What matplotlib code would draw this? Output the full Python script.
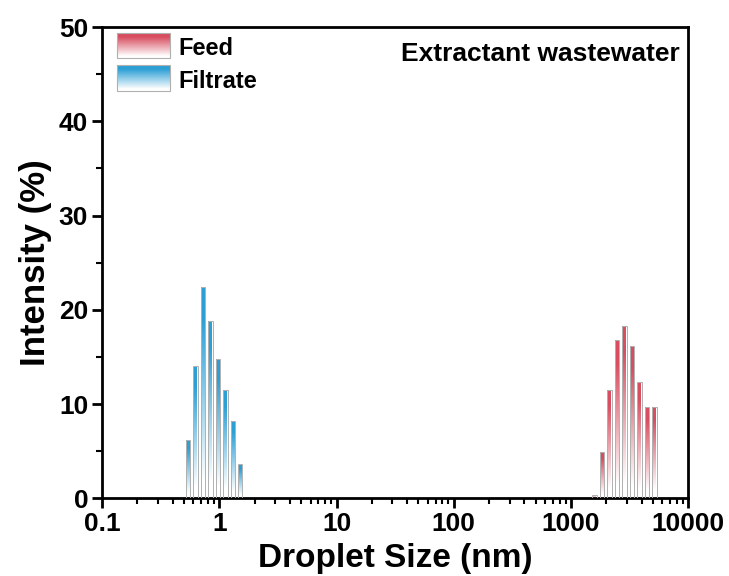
"""DLS droplet size distribution: feed vs filtrate for extractant wastewater."""
import numpy as np
import matplotlib
matplotlib.use("Agg")
import matplotlib.pyplot as plt
from matplotlib.colors import LinearSegmentedColormap
from matplotlib.patches import Rectangle

plt.rcParams["font.family"] = ["Liberation Sans", "DejaVu Sans"]
plt.rcParams["font.weight"] = "bold"

# filtrate (blue) bins
filtrate_size = [0.542, 0.628, 0.727, 0.842, 0.975, 1.13, 1.31, 1.51]
filtrate_int = [6.2, 14.0, 22.4, 18.8, 14.8, 11.5, 8.2, 3.6]

# feed (red) bins
feed_size = [1592, 1843, 2134, 2471, 2862, 3314, 3838, 4444, 5146]
feed_int = [0.3, 4.9, 11.5, 16.8, 18.3, 16.2, 12.3, 9.7, 9.7]

RED = "#d84e60"
BLUE = "#2c9fd5"
EDGE = "#b0b0b0"
HW = 0.019  # half bar width in decades

t = np.linspace(0, 1, 256).reshape(-1, 1)
GRAD = np.clip((t - 0.08) / 0.77, 0, 1)


def grad_cmap(color):
    return LinearSegmentedColormap.from_list("g", ["white", color])


def grad_bars(ax, xs, hs, color):
    cmap = grad_cmap(color)
    for x, h in zip(xs, hs):
        l, r = x * 10 ** -HW, x * 10 ** HW
        ax.imshow(GRAD, extent=(l, r, 0, h), origin="lower", aspect="auto",
                  cmap=cmap, vmin=0, vmax=1, interpolation="bilinear", zorder=2)
        ax.add_patch(Rectangle((l, 0), r - l, h, fill=False, edgecolor=EDGE,
                               lw=0.7, zorder=3))


fig = plt.figure(figsize=(7.29, 5.76), dpi=100)
ax = fig.add_axes([0.140, 0.135, 0.804, 0.818])
ax.set_xscale("log")

grad_bars(ax, filtrate_size, filtrate_int, BLUE)
grad_bars(ax, feed_size, feed_int, RED)

ax.set_xlim(0.1, 10000)
ax.set_ylim(0, 50)
ax.set_xticks([0.1, 1, 10, 100, 1000, 10000])
ax.set_xticklabels(["0.1", "1", "10", "100", "1000", "10000"])
ax.set_yticks([0, 10, 20, 30, 40, 50])
ax.set_yticks([5, 15, 25, 35, 45], minor=True)
ax.tick_params(axis="both", which="major", length=7, width=2, labelsize=19,
               direction="out", pad=3)
ax.tick_params(axis="both", which="minor", length=4, width=1.5, direction="out")
for lab in ax.get_xticklabels() + ax.get_yticklabels():
    lab.set_fontweight("bold")
for s in ax.spines.values():
    s.set_linewidth(2)

ax.set_xlabel("Droplet Size (nm)", fontsize=24, fontweight="bold", labelpad=5)
ax.set_ylabel("Intensity (%)", fontsize=25, fontweight="bold", labelpad=5)

ax.text(0.986, 0.928, "Extractant wastewater", transform=ax.transAxes,
        ha="right", va="baseline", fontsize=19, fontweight="bold")

# legend with gradient swatches (axes fraction coords)
for (y0, y1), color, name in [((0.987, 0.934), RED, "Feed"),
                              ((0.919, 0.864), BLUE, "Filtrate")]:
    ext = (0.026, 0.116, y1, y0)
    ax.imshow(GRAD, extent=ext, origin="lower", aspect="auto",
              cmap=grad_cmap(color), vmin=0, vmax=1, transform=ax.transAxes,
              interpolation="bilinear", zorder=4)
    ax.add_patch(Rectangle((0.026, y1), 0.09, y0 - y1, transform=ax.transAxes,
                           fill=False, edgecolor=EDGE, lw=0.8, zorder=5))
    ax.text(0.130, (y0 + y1) / 2 - 0.006, name, transform=ax.transAxes,
            va="center", ha="left", fontsize=17, fontweight="bold")

fig.savefig("out.png", dpi=100)
